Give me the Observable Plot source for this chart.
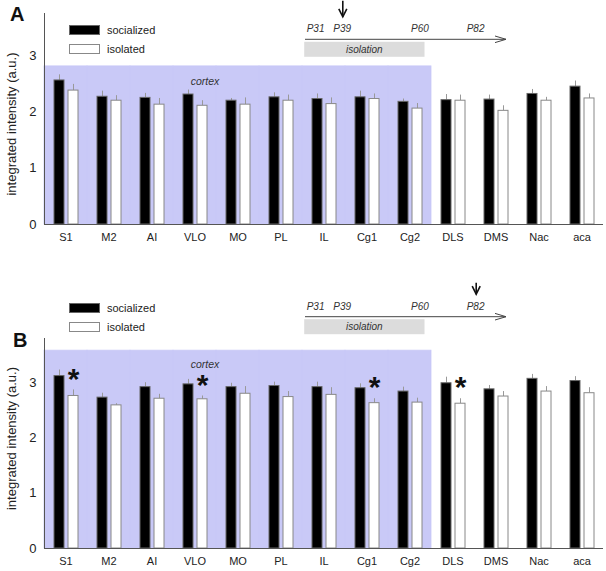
<!DOCTYPE html>
<html>
<head>
<meta charset="utf-8">
<script src="https://cdn.jsdelivr.net/npm/d3@7"></script>
<script src="https://cdn.jsdelivr.net/npm/@observablehq/plot@0.6"></script>
<style>
  body { margin: 0; background: #fff; font-family: "Liberation Sans", Arial, sans-serif; }
  #wrap { position: relative; width: 606px; height: 571px; overflow: hidden; }
  .panel { position: absolute; left: 0; }
  #overlay { position: absolute; left: 0; top: 0; pointer-events: none; }
</style>
</head>
<body>
<div id="wrap"></div>
<script>
// ---------------- data ----------------
const regions = ["S1","M2","AI","VLO","MO","PL","IL","Cg1","Cg2","DLS","DMS","Nac","aca"];
const cortexRegions = ["S1","M2","AI","VLO","MO","PL","IL","Cg1","Cg2"];
const groups = ["socialized","isolated"];
const groupFill = ["#000000","#ffffff"];

// Panel A (P39)
const aSocialized    = [2.56,2.27,2.25,2.31,2.20,2.26,2.23,2.26,2.18,2.21,2.22,2.32,2.45];
const aSocializedSem = [0.10,0.10,0.08,0.08,0.04,0.08,0.09,0.11,0.05,0.10,0.08,0.08,0.10];
const aIsolated      = [2.38,2.20,2.13,2.11,2.13,2.20,2.14,2.23,2.06,2.20,2.02,2.20,2.24];
const aIsolatedSem   = [0.11,0.09,0.11,0.09,0.12,0.10,0.11,0.09,0.09,0.10,0.09,0.06,0.08];
const aSignificant   = [];

// Panel B (P82)
const bSocialized    = [3.12,2.73,2.92,2.97,2.92,2.94,2.92,2.90,2.84,2.99,2.88,3.07,3.03];
const bSocializedSem = [0.11,0.08,0.08,0.09,0.07,0.07,0.09,0.08,0.08,0.11,0.07,0.08,0.08];
const bIsolated      = [2.76,2.59,2.71,2.70,2.80,2.74,2.78,2.63,2.64,2.62,2.75,2.84,2.81];
const bIsolatedSem   = [0.11,0.03,0.08,0.06,0.13,0.10,0.13,0.08,0.08,0.09,0.09,0.09,0.10];
const bSignificant   = ["S1","VLO","Cg1","DLS"];

const yTicks = [0,1,2,3];
const yLabel = "integrated intensity (a.u.)";
const cortexLabel = "cortex";

// timeline
const timelineDays = [31,39,60,82];
const timelineLabels = ["P31","P39","P60","P82"];
const isolationSpan = [31,60];
const isolationLabel = "isolation";
const arrowDayA = 39, arrowDayB = 82;

// ---------------- panels ----------------
function makePanel({soc, socSem, iso, isoSem, sig, shadeTop, yMax, height, marginTop, marginBottom, labelDy, cortexDy}) {
  const data = regions.flatMap((r, i) => [
    {region: r, group: groups[0], value: soc[i], err: soc[i] + socSem[i]},
    {region: r, group: groups[1], value: iso[i], err: iso[i] + isoSem[i]}
  ]);
  const shade = cortexRegions.map(r => ({region: r, top: shadeTop}));
  const stars = data.filter(d => d.group === "isolated" && sig.includes(d.region));
  const cortexLab = [{region: "VLO", y: shadeTop}];
  return Plot.plot({
    width: 606, height, marginLeft: 40, marginRight: 0, marginTop, marginBottom,
    style: {fontFamily: '"Liberation Sans", Arial, sans-serif', fontSize: "11px", background: "transparent", color: "#222", overflow: "visible"},
    fx: {domain: regions, padding: 0, label: null, tickSize: 0, tickPadding: 9},
    x: {domain: groups, paddingInner: 0.32, paddingOuter: 0.64, axis: null},
    y: {domain: [0, yMax]},
    marks: [
      Plot.barY(shade, {fx: "region", y: "top", fill: "#c9c9f7", stroke: "#c9c9f7", strokeWidth: 0.8}),
      Plot.text(cortexLab, {fx: "region", y: "y", text: () => cortexLabel, fontStyle: "italic", fontSize: 10.5, fill: "#333", dx: 10, dy: cortexDy}),
      Plot.ruleX(data, {fx: "region", x: "group", y1: "value", y2: "err", stroke: "#999", strokeWidth: 1}),
      Plot.barY(data, {fx: "region", x: "group", y: "value", fill: d => groupFill[groups.indexOf(d.group)], stroke: d => d.group === "socialized" ? "#666" : "#888", strokeWidth: 1}),
      Plot.text(stars, {fx: "region", x: "group", y: "err", text: () => "*", fontSize: 30, fontWeight: "bold", fill: "#111", dy: -11}),
      Plot.ruleY([0], {stroke: "#555", strokeWidth: 1}),
      Plot.frame({anchor: "left", stroke: "#555", facetAnchor: "left"}),
      Plot.axisY({ticks: yTicks, tickFormat: d3.format("d"), tickSize: 0, tickPadding: 8, label: null, fontSize: 13, facetAnchor: "left"}),
      Plot.text([yLabel], {frameAnchor: "left", text: d => d, rotate: -90, textAnchor: "middle", lineAnchor: "middle", dx: -33, dy: labelDy, fontSize: 13, fill: "#222", facetAnchor: "left"})
    ]
  });
}

const wrap = document.getElementById("wrap");

const panelA = makePanel({soc: aSocialized, socSem: aSocializedSem, iso: aIsolated, isoSem: aIsolatedSem, sig: aSignificant,
  shadeTop: 2.81, yMax: 3.75, height: 250, marginTop: 13, marginBottom: 26, labelDy: 5, cortexDy: 15});
const divA = document.createElement("div"); divA.className = "panel"; divA.style.top = "0px"; divA.appendChild(panelA); wrap.appendChild(divA);

const panelB = makePanel({soc: bSocialized, socSem: bSocializedSem, iso: bIsolated, isoSem: bIsolatedSem, sig: bSignificant,
  shadeTop: 3.58, yMax: 3.8, height: 246, marginTop: 13, marginBottom: 23, labelDy: -5, cortexDy: 13.5});
const divB = document.createElement("div"); divB.className = "panel"; divB.style.top = "325px"; divB.appendChild(panelB); wrap.appendChild(divB);

// ---------------- annotations (legend, panel letters, timeline) ----------------
const svg = d3.select(wrap).append("svg").attr("id", "overlay").attr("width", 606).attr("height", 571)
  .style("font-family", '"Liberation Sans", Arial, sans-serif');

function legend(top) {
  const g = svg.append("g").attr("transform", `translate(69,${top})`);
  groups.forEach((name, i) => {
    g.append("rect").attr("x", 0.5).attr("y", i * 19 + 0.5).attr("width", 30).attr("height", 9)
      .attr("fill", groupFill[i]).attr("stroke", i === 0 ? "#666" : "#888");
    g.append("text").attr("x", 38).attr("y", i * 19 + 9).attr("font-size", 11).attr("fill", "#222").text(name);
  });
}
legend(25);
legend(303);

svg.append("text").attr("x", 10).attr("y", 21).attr("font-size", 20).attr("font-weight", "bold").attr("fill", "#111").text("A");
svg.append("text").attr("x", 13).attr("y", 347).attr("font-size", 20).attr("font-weight", "bold").attr("fill", "#111").text("B");

const tx = d3.scaleLinear().domain(timelineDays).range([306.7, 333.3, 411, 466.7]);
function timeline(top, arrowDay, arrowTop) {
  const g = svg.append("g").attr("transform", `translate(0,${top})`);
  g.append("rect").attr("x", tx(isolationSpan[0]) - 2.5).attr("y", 2.5)
    .attr("width", tx(isolationSpan[1]) + 13.5 - (tx(isolationSpan[0]) - 2.5)).attr("height", 15).attr("fill", "#dcdcdc");
  g.append("text").attr("x", (tx(isolationSpan[0]) + tx(isolationSpan[1]) + 11) / 2).attr("y", 13.5)
    .attr("text-anchor", "middle").attr("font-size", 10).attr("font-style", "italic").attr("fill", "#333").text(isolationLabel);
  g.append("line").attr("x1", 305).attr("x2", 506).attr("y1", 0).attr("y2", 0).attr("stroke", "#444").attr("stroke-width", 1);
  g.append("path").attr("d", "M495,-3.3L506,0L495,3.3").attr("fill", "none").attr("stroke", "#444").attr("stroke-width", 1);
  timelineDays.forEach((d, i) => {
    g.append("text").attr("x", tx(d)).attr("y", -7).attr("font-size", 10).attr("font-style", "italic").attr("fill", "#333").text(timelineLabels[i]);
  });
  const ax = tx(arrowDay) + 9.5;
  g.append("line").attr("x1", ax).attr("x2", ax).attr("y1", arrowTop).attr("y2", -22.5).attr("stroke", "#111").attr("stroke-width", 1.6);
  g.append("path").attr("d", `M${ax - 4},-30.5L${ax},-22.5L${ax + 4},-30.5`).attr("fill", "none").attr("stroke", "#111").attr("stroke-width", 1.6);
}
timeline(39.3, arrowDayA, -38.5);
timeline(316.7, arrowDayB, -34);
</script>
</body>
</html>
